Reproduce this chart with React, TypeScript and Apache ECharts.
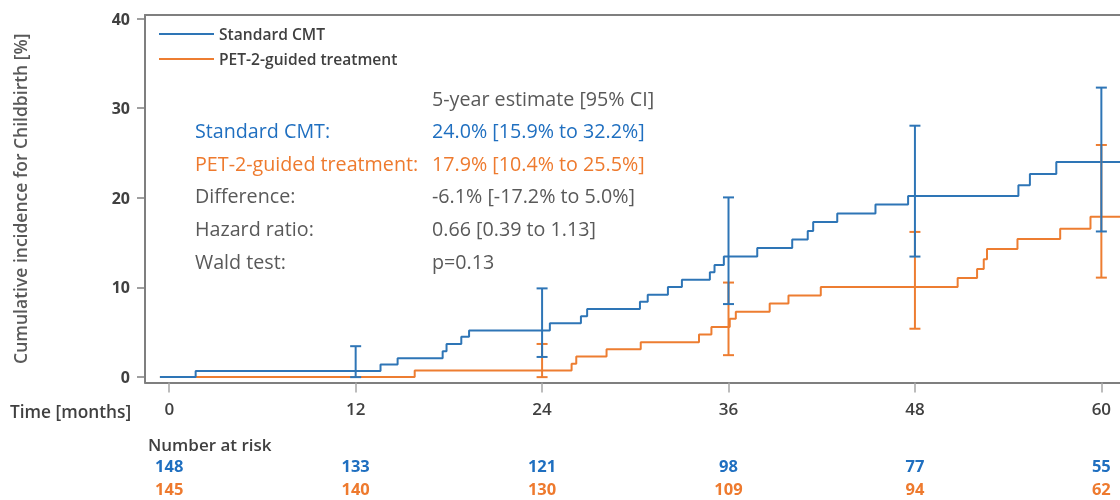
import React, { useEffect, useRef } from "react";
import * as echarts from "echarts";

// ---------- data ----------
const tickMonths = [0, 12, 24, 36, 48, 60];
const yTicks = [0, 10, 20, 30, 40];

const stdTimes = [-0.6, 1.7, 13.6, 14.7, 17.6, 17.85, 18.8, 19.3, 24.5, 26.5, 26.9, 30.3, 30.8, 32.1, 33.0, 34.8, 35.1, 35.7, 37.85, 40.1, 41.1, 41.45, 43.0, 45.46, 47.56, 54.66, 55.4, 57.1, 61.2];
const stdValues = [0, 0.68, 1.4, 2.1, 2.9, 3.7, 4.5, 5.2, 6.0, 6.8, 7.6, 8.4, 9.2, 10.05, 10.85, 11.7, 12.5, 13.45, 14.4, 15.35, 16.3, 17.3, 18.25, 19.25, 20.2, 21.4, 22.65, 24.0, 24.0];

const petTimes = [-0.6, 15.8, 25.9, 26.2, 28.15, 30.35, 34.1, 34.9, 36.08, 36.47, 38.65, 39.86, 41.94, 50.75, 52.0, 52.43, 52.64, 54.6, 57.35, 59.3, 61.2];
const petValues = [0, 0.75, 1.5, 2.3, 3.1, 3.9, 4.75, 5.6, 6.5, 7.3, 8.2, 9.1, 10.05, 11.05, 12.05, 13.15, 14.3, 15.4, 16.55, 17.9, 17.9];

const stdCiMonths = [12, 24, 36, 48, 60];
const stdLower = [0, 2.25, 8.15, 13.45, 16.25];
const stdUpper = [3.45, 9.9, 20.05, 28.05, 32.3];

const petCiMonths = [24, 36, 48, 60];
const petLower = [0, 2.45, 5.4, 11.1];
const petUpper = [3.7, 10.55, 16.2, 25.9];

const atRiskStd = [148, 133, 121, 98, 77, 55];
const atRiskPet = [145, 140, 130, 109, 94, 62];

const seriesNames = ["Standard CMT", "PET-2-guided treatment"];

const tableRows: [string, string, string][] = [
  ["", "5-year estimate [95% CI]", "gray"],
  ["Standard CMT:", "24.0% [15.9% to 32.2%]", "blue"],
  ["PET-2-guided treatment:", "17.9% [10.4% to 25.5%]", "orange"],
  ["Difference:", "-6.1% [-17.2% to 5.0%]", "gray"],
  ["Hazard ratio:", "0.66 [0.39 to 1.13]", "gray"],
  ["Wald test:", "p=0.13", "gray"],
];

// ---------- styles ----------
const BLUE = "#2E75B6";
const ORANGE = "#ED7D31";
const BLUE_TXT = "#1F6FC0";
const ORANGE_TXT = "#EE7A2E";
const GRAY_TXT = "#595959";
const AXIS_TXT = "#404040";
const FRAME = "#7F7F7F";
const FONT = "'Open Sans', sans-serif";
const X_MIN = -1.56;
const X_MAX = 61.2;

const colorOf: Record<string, string> = { gray: GRAY_TXT, blue: BLUE_TXT, orange: ORANGE_TXT };

function zip(a: number[], b: number[]) {
  return a.map((v, i) => [v, b[i]]);
}

function errorBarSeries(name: string, months: number[], lo: number[], hi: number[], color: string) {
  return {
    type: "custom",
    name,
    data: months.map((m, i) => [m, lo[i], hi[i]]),
    z: 3,
    renderItem: (params: any, api: any) => {
      const x = api.value(0);
      const pLo = api.coord([x, api.value(1)]);
      const pHi = api.coord([x, api.value(2)]);
      const hw = 5.5;
      const style = { stroke: color, lineWidth: 2 };
      return {
        type: "group",
        children: [
          { type: "line", shape: { x1: pLo[0], y1: pLo[1], x2: pHi[0], y2: pHi[1] }, style },
          { type: "line", shape: { x1: pLo[0] - hw, y1: pLo[1], x2: pLo[0] + hw, y2: pLo[1] }, style },
          { type: "line", shape: { x1: pHi[0] - hw, y1: pHi[1], x2: pHi[0] + hw, y2: pHi[1] }, style },
        ],
      };
    },
  };
}

function atRiskAxis(values: number[], color: string, offset: number) {
  return {
    type: "value",
    min: X_MIN,
    max: X_MAX,
    position: "bottom",
    offset,
    axisLine: { show: false, onZero: false },
    splitLine: { show: false },
    axisTick: { show: false },
    axisLabel: {
      customValues: tickMonths,
      margin: 0,
      formatter: (v: number) => String(values[tickMonths.indexOf(v)]),
      color,
      fontFamily: FONT,
      fontWeight: "bold",
      fontSize: 16.5,
      lineHeight: 16,
    },
  };
}

const ROW_Y0 = 98;
const ROW_DY = 32.6;

const frameLine = { show: true, onZero: false, lineStyle: { color: FRAME, width: 2 } };

const option: any = {
  animation: false,
  grid: {
    left: 145,
    top: 15,
    right: 0,
    bottom: 117.5,
  },
  legend: {
    data: seriesNames,
    orient: "vertical",
    left: 154,
    top: 19,
    icon: "rect",
    itemWidth: 55,
    itemHeight: 2,
    itemGap: 5,
    textStyle: { fontFamily: FONT, fontWeight: 600, fontSize: 15.6, color: AXIS_TXT, lineHeight: 20 },
  },
  xAxis: [
    {
      type: "value",
      min: X_MIN,
      max: X_MAX,
      axisLine: frameLine,
      splitLine: { show: false },
      axisTick: { show: true, customValues: tickMonths, length: 10, lineStyle: { color: "#A6A6A6", width: 1.5 } },
      axisLabel: {
        customValues: tickMonths,
        margin: 17,
        fontFamily: FONT,
        fontWeight: 600,
        fontSize: 17,
        color: AXIS_TXT,
      },
    },
    atRiskAxis(atRiskStd, BLUE_TXT, 75),
    atRiskAxis(atRiskPet, ORANGE_TXT, 97.5),
    {
      type: "value",
      min: X_MIN,
      max: X_MAX,
      position: "top",
      axisLine: frameLine,
      splitLine: { show: false },
      axisTick: { show: false },
      axisLabel: { show: false },
    },
  ],
  yAxis: {
    type: "value",
    min: -0.6,
    max: 40.4,
    name: "Cumulative incidence for Childbirth [%]",
    nameLocation: "middle",
    nameRotate: 90,
    nameGap: 116,
    nameTextStyle: { fontFamily: FONT, fontWeight: 600, fontSize: 17.5, color: GRAY_TXT },
    axisLine: frameLine,
    splitLine: { show: false },
    axisTick: { show: true, customValues: yTicks, length: 8, lineStyle: { color: FRAME, width: 1.5 } },
    axisLabel: {
      customValues: yTicks,
      margin: 15,
      fontFamily: FONT,
      fontWeight: "bold",
      fontSize: 16,
      color: AXIS_TXT,
    },
  },
  series: [
    {
      name: seriesNames[1],
      type: "line",
      step: "end",
      showSymbol: false,
      color: ORANGE,
      lineStyle: { color: ORANGE, width: 2 },
      data: zip(petTimes, petValues),
      z: 2,
    },
    {
      name: seriesNames[0],
      type: "line",
      step: "end",
      showSymbol: false,
      color: BLUE,
      lineStyle: { color: BLUE, width: 2 },
      data: zip(stdTimes, stdValues),
      z: 2,
    },
    errorBarSeries("CI PET", petCiMonths, petLower, petUpper, ORANGE),
    errorBarSeries("CI CMT", stdCiMonths, stdLower, stdUpper, BLUE),
  ],
  graphic: [
    ...tableRows.flatMap(([label, value, c], i) => [
      {
        type: "text",
        x: 195,
        y: ROW_Y0 + i * ROW_DY,
        style: { text: label, fill: colorOf[c], font: `19.7px ${FONT}`, verticalAlign: "middle" },
      },
      {
        type: "text",
        x: 432,
        y: ROW_Y0 + i * ROW_DY,
        style: { text: value, fill: colorOf[c], font: `19.7px ${FONT}`, verticalAlign: "middle" },
      },
    ]),
    {
      type: "text",
      x: 10,
      y: 411,
      style: { text: "Time [months]", fill: AXIS_TXT, font: `600 17.3px ${FONT}`, verticalAlign: "middle" },
    },
    {
      type: "text",
      x: 148,
      y: 444,
      style: { text: "Number at risk", fill: AXIS_TXT, font: `600 17px ${FONT}`, verticalAlign: "middle" },
    },
  ],
};

export default function App() {
  const ref = useRef<HTMLDivElement>(null);
  useEffect(() => {
    const chart = echarts.init(ref.current!, null, { renderer: "svg" });
    chart.setOption(option);
    return () => chart.dispose();
  }, []);
  return <div ref={ref} style={{ position: "fixed", left: 0, top: 0, width: 1120, height: 500 }} />;
}
